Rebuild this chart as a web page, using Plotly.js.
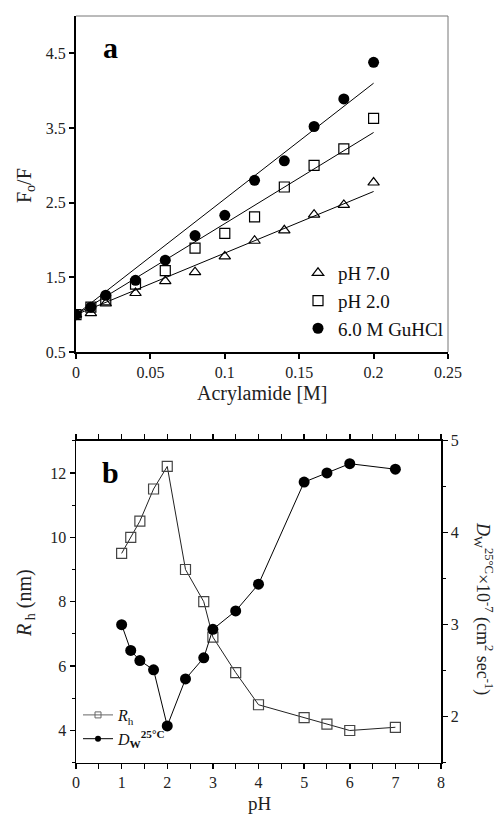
<!DOCTYPE html>
<html>
<head>
<meta charset="utf-8">
<script src="https://cdn.plot.ly/plotly-3.0.1.min.js"></script>
<style>html,body{margin:0;padding:0;background:#fff;}#chart{width:499px;height:818px;}</style>
</head>
<body>
<div id="chart"></div>
<script>
// ---------- Panel a data ----------
const acrylamide = [0, 0.01, 0.02, 0.04, 0.06, 0.08, 0.10, 0.12, 0.14, 0.16, 0.18, 0.20];
const fofPH7 = [1.00, 1.02, 1.15, 1.29, 1.45, 1.57, 1.78, 1.99, 2.13, 2.34, 2.47, 2.77];
const fofPH2 = [1.00, 1.10, 1.20, 1.41, 1.59, 1.89, 2.09, 2.31, 2.71, 3.00, 3.22, 3.63];
const fofGuHCl = [1.00, 1.10, 1.26, 1.46, 1.73, 2.06, 2.33, 2.80, 3.06, 3.52, 3.89, 4.38];
const fitX = [0, 0.20];
const fitPH7 = [1.00, 2.65];
const fitPH2 = [1.00, 3.44];
const fitGuHCl = [1.00, 4.10];
const aXTickVals = [0, 0.05, 0.1, 0.15, 0.2, 0.25];
const aXTickText = ["0", "0.05", "0.1", "0.15", "0.2", "0.25"];
const aYTickVals = [0.5, 1.5, 2.5, 3.5, 4.5];
const aYTickText = ["0.5", "1.5", "2.5", "3.5", "4.5"];

// ---------- Panel b data ----------
const pH = [1, 1.2, 1.4, 1.7, 2, 2.4, 2.8, 3, 3.5, 4, 5, 5.5, 6, 7];
const Rh = [9.5, 10.0, 10.5, 11.5, 12.2, 9.0, 8.0, 6.9, 5.8, 4.8, 4.4, 4.2, 4.0, 4.1];
const Dw = [3.00, 2.72, 2.61, 2.51, 1.90, 2.41, 2.64, 2.95, 3.15, 3.44, 4.55, 4.65, 4.75, 4.69];
const bXTickVals = [0, 1, 2, 3, 4, 5, 6, 7, 8];
const bYTickVals = [4, 6, 8, 10, 12];
const bY2TickVals = [2, 3, 4, 5];

const W = 499, H = 818;
const serif = "Liberation Serif, Times New Roman, serif";
const px = v => v / W;
const py = v => 1 - v / H;

const rhName = '<i>R</i><sub>h</sub>';
const dwName = '<i>D</i><sub><b>W</b></sub><sup><b>25°C</b></sup>';

const traces = [
  {x: fitX, y: fitPH7, xaxis: 'x', yaxis: 'y', mode: 'lines', line: {color: '#000', width: 1}, showlegend: false, hoverinfo: 'skip'},
  {x: fitX, y: fitPH2, xaxis: 'x', yaxis: 'y', mode: 'lines', line: {color: '#000', width: 1}, showlegend: false, hoverinfo: 'skip'},
  {x: fitX, y: fitGuHCl, xaxis: 'x', yaxis: 'y', mode: 'lines', line: {color: '#000', width: 1}, showlegend: false, hoverinfo: 'skip'},
  {x: acrylamide, y: fofPH7, xaxis: 'x', yaxis: 'y', mode: 'markers', name: 'pH 7.0', legend: 'legend',
   marker: {symbol: 'triangle-up-open', size: 10, color: '#000', line: {width: 1.2, color: '#000'}}},
  {x: acrylamide, y: fofPH2, xaxis: 'x', yaxis: 'y', mode: 'markers', name: 'pH 2.0', legend: 'legend',
   marker: {symbol: 'square-open', size: 10, color: '#000', line: {width: 1.2, color: '#000'}}},
  {x: acrylamide, y: fofGuHCl, xaxis: 'x', yaxis: 'y', mode: 'markers', name: '6.0 M GuHCl', legend: 'legend',
   marker: {symbol: 'circle', size: 11, color: '#000'}},
  {x: pH, y: Rh, xaxis: 'x2', yaxis: 'y2', mode: 'lines+markers', name: rhName, showlegend: false,
   line: {color: '#222', width: 1}, marker: {symbol: 'square-open', size: 10, color: '#444', line: {width: 1.2, color: '#444'}}},
  {x: pH, y: Dw, xaxis: 'x2', yaxis: 'y3', mode: 'lines+markers', name: dwName, showlegend: false,
   line: {color: '#000', width: 1}, marker: {symbol: 'circle', size: 11, color: '#000'}},
  // legend-only entries (small symbols, as in the reference key)
  {x: [null], y: [null], xaxis: 'x2', yaxis: 'y2', mode: 'lines+markers', name: rhName, legend: 'legend2',
   line: {color: '#666', width: 1}, marker: {symbol: 'square-open', size: 6, color: '#666', line: {width: 1, color: '#666'}}},
  {x: [null], y: [null], xaxis: 'x2', yaxis: 'y2', mode: 'lines+markers', name: dwName, legend: 'legend2',
   line: {color: '#000', width: 1}, marker: {symbol: 'circle', size: 6, color: '#000'}}
];

const axisCommon = {
  showgrid: false, zeroline: false, showline: true, linecolor: '#000',
  ticks: 'outside', tickcolor: '#000', ticklen: 5, tickwidth: 1.5,
  tickfont: {family: serif, size: 16, color: '#222'}, automargin: false, fixedrange: true
};

function ann(text, x, y, size, angle) {
  return {text: text, xref: 'paper', yref: 'paper', x: px(x), y: py(y), xanchor: 'center', yanchor: 'middle',
          textangle: angle || 0, showarrow: false, font: {family: serif, size: size, color: '#222'}};
}

const layout = {
  width: W, height: H,
  margin: {l: 0, r: 0, t: 0, b: 0},
  paper_bgcolor: '#fff', plot_bgcolor: '#fff',
  font: {family: serif, color: '#000'},
  xaxis: Object.assign({}, axisCommon, {
    domain: [px(76), px(448)], anchor: 'y', range: [0, 0.25],
    tickmode: 'array', tickvals: aXTickVals, ticktext: aXTickText, linewidth: 2, tickwidth: 2
  }),
  yaxis: Object.assign({}, axisCommon, {
    domain: [1 - 352 / H, 1 - 16 / H], anchor: 'x', range: [0.5, 5],
    tickmode: 'array', tickvals: aYTickVals, ticktext: aYTickText, linewidth: 2, tickwidth: 2
  }),
  xaxis2: Object.assign({}, axisCommon, {
    domain: [px(76), px(441)], anchor: 'y2', range: [0, 8],
    tickmode: 'array', tickvals: bXTickVals, linewidth: 1.5, mirror: 'allticks',
    minor: {dtick: 0.5, ticks: 'outside', ticklen: 3, tickcolor: '#000', tickwidth: 1}
  }),
  yaxis2: Object.assign({}, axisCommon, {
    domain: [1 - 762.7 / H, 1 - 440.7 / H], anchor: 'x2', range: [3, 13],
    tickmode: 'array', tickvals: bYTickVals, linewidth: 1.5,
    minor: {dtick: 1, ticks: 'outside', ticklen: 3, tickcolor: '#000', tickwidth: 1}
  }),
  yaxis3: Object.assign({}, axisCommon, {
    overlaying: 'y2', side: 'right', anchor: 'x2', range: [1.5, 5],
    tickmode: 'array', tickvals: bY2TickVals, linewidth: 1.5,
    minor: {dtick: 0.5, ticks: 'outside', ticklen: 3, tickcolor: '#000', tickwidth: 1}
  }),
  shapes: [
    {type: 'line', xref: 'x domain', yref: 'y domain', x0: 0, x1: 1, y0: 1, y1: 1, line: {color: '#777', width: 1}},
    {type: 'line', xref: 'x domain', yref: 'y domain', x0: 1, x1: 1, y0: 0, y1: 1, line: {color: '#777', width: 1}}
  ],
  legend: {
    x: px(298), y: py(254), xanchor: 'left', yanchor: 'top', bgcolor: 'rgba(0,0,0,0)',
    font: {family: serif, size: 19, color: '#111'}, traceorder: 'normal', itemwidth: 30
  },
  legend2: {
    x: px(78), y: py(727), xanchor: 'left', yanchor: 'middle', bgcolor: 'rgba(255,255,255,0)',
    font: {family: serif, size: 16, color: '#111'}, itemwidth: 30, traceorder: 'normal', tracegroupgap: 0
  },
  annotations: [
    Object.assign(ann('<b>a</b>', 110, 47, 30), {font: {family: serif, size: 30, color: '#000'}}),
    Object.assign(ann('<b>b</b>', 110, 472, 30), {font: {family: serif, size: 30, color: '#000'}}),
    ann('Acrylamide [M]', 262, 393, 20),
    ann('F<sub>o</sub>/F', 25, 186, 20, -90),
    ann('pH', 260, 803, 19),
    ann('<i>R</i><sub> h</sub> (nm)', 25, 603, 20, -90),
    ann('<i>D</i><sub>W</sub><sup>25°C</sup>×10<sup>-7</sup> (cm<sup>2</sup> sec<sup>-1</sup>)', 484, 608, 18, 90)
  ]
};

Plotly.newPlot('chart', traces, layout, {staticPlot: true, displayModeBar: false});
</script>
</body>
</html>
